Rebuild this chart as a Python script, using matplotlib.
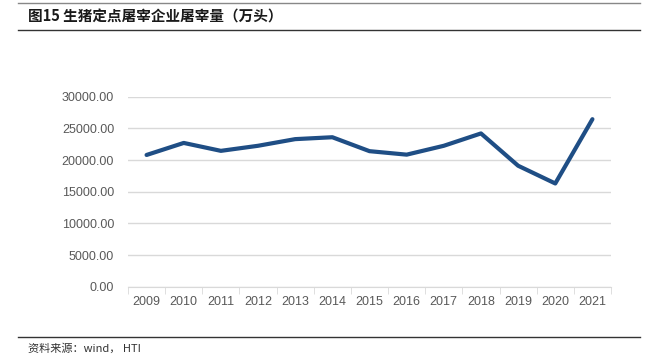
import matplotlib
matplotlib.use('Agg')
import matplotlib.pyplot as plt
from matplotlib.lines import Line2D
import numpy as np

plt.rcParams['font.family'] = ['Noto Sans CJK SC', 'DejaVu Sans']

years = ['2009', '2010', '2011', '2012', '2013', '2014', '2015',
         '2016', '2017', '2018', '2019', '2020', '2021']
volume = [20800, 22700, 21450, 22250, 23300, 23600, 21400,
          20850, 22250, 24200, 19100, 16300, 26450]
yticks = [0, 5000, 10000, 15000, 20000, 25000, 30000]

fig = plt.figure(figsize=(6.46, 3.63), dpi=100)
ax = fig.add_axes([128/646, 1 - 286.7/363, (611-128)/646, (286.7-96.7)/363])

x = np.arange(len(years))
ax.plot(x, volume, color='#1f4e85', linewidth=3, solid_capstyle='round')

ax.set_xlim(-0.5, len(years) - 0.5)
ax.set_ylim(0, 30000)
ax.set_yticks(yticks)
ax.set_yticklabels(['%.2f' % v for v in yticks], fontfamily='Liberation Sans')
ax.set_xticks(x)
ax.set_xticklabels(years, fontfamily='Liberation Sans')
ax.set_xticks(np.arange(-0.5, len(years)), minor=True)
ax.tick_params(axis='x', which='major', length=0, pad=7, labelsize=9, labelcolor='#595959')
ax.tick_params(axis='x', which='minor', length=5, color='#d9d9d9')
ax.tick_params(axis='y', length=0, pad=10, labelsize=9, labelcolor='#595959')
ax.grid(axis='y', color='#d9d9d9', linewidth=1)
ax.set_axisbelow(True)
for s in ['top', 'right', 'left']:
    ax.spines[s].set_visible(False)
ax.spines['bottom'].set_color('#d9d9d9')

# header / footer rules
fig.add_artist(Line2D([18/646, 640/646], [1 - 3/363, 1 - 3/363], color='#888888', linewidth=1))
fig.add_artist(Line2D([18/646, 640/646], [1 - 30/363, 1 - 30/363], color='#333333', linewidth=1))
fig.add_artist(Line2D([18/646, 640/646], [1 - 337/363, 1 - 337/363], color='#333333', linewidth=1))

fig.text(28/646, 1 - 17/363, '图15 生猪定点屠宰企业屠宰量（万头）', fontsize=10.5,
         fontweight='bold', va='center', ha='left', color='#1a1a1a')
fig.text(28/646, 1 - 348/363, '资料来源：wind， HTI', fontsize=8,
         va='center', ha='left', color='#333333')

fig.savefig('out.png', dpi=100)
